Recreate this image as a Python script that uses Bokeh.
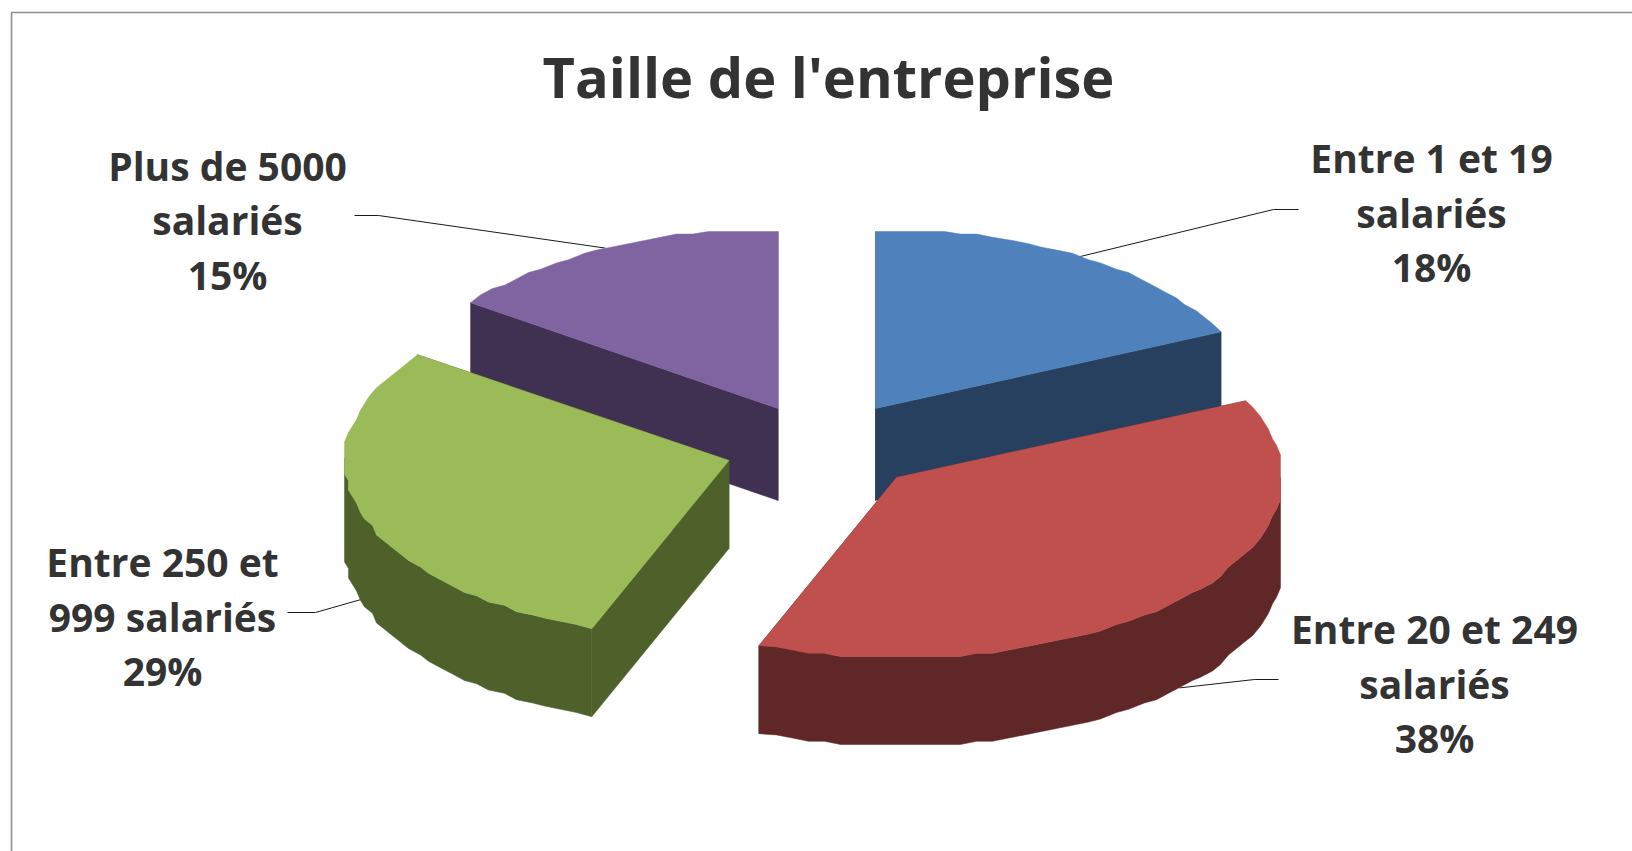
import numpy as np
from bokeh.embed import file_html
from bokeh.resources import INLINE
from bokeh.plotting import figure
from bokeh.core.properties import value

TITLE = "Taille de l'entreprise"
categories = [["Entre 1 et 19", "salariés"], ["Entre 20 et 249", "salariés"],
              ["Entre 250 et", "999 salariés"], ["Plus de 5000", "salariés"]]
shares = [18.0, 37.8, 29.2, 15.0]
percent_labels = ["18%", "38%", "29%", "15%"]
top_colors = ["#4F81BD", "#C0504D", "#9BBB59", "#8064A2"]
wall_colors = ["#284060", "#5F2727", "#4F612B", "#403152"]

# layout (page pixels)
apex_x = [875, 896, 728.5, 777.5]
apex_y = [408, 477, 460, 408]
radius_x = [382, 386, 385, 380]
depth = [92, 88, 88, 92]
RY, TOP_CLIP = 180, 231
label_x = [1431, 1434, 162, 227]
label_y = [157, 628, 561, 164.5]
LINE_H = 54.5
elbow_x = [1273, 1254, 315, 378]
elbow_y = [209, 679, 612, 215]
end_x = [1298, 1278, 287, 354]

p = figure(width=1632, height=851, x_range=(0, 1632), y_range=(851, 0),
           toolbar_location=None, output_backend="svg", min_border=0,
           outline_line_color=None, background_fill_color="white")
p.axis.visible = False
p.grid.visible = False


def snap(v, step):
    return np.round(np.asarray(v) / step) * step


def rim(i, a0, a1):
    n = max(2, int(abs(a1 - a0) / 2.5) + 1)
    deg = np.linspace(a0, a1, n)
    a = np.radians(deg)
    x = apex_x[i] + radius_x[i] * np.sin(a)
    y = apex_y[i] - RY * np.cos(a)
    # the source drawing has a faceted, stair-stepped outline
    x[1:-1] = snap(x[1:-1], 4.0)
    y[1:-1] = snap(y[1:-1], 3.2)
    return deg, x, np.maximum(y, TOP_CLIP)


edges = np.cumsum([0] + shares) / sum(shares) * 360
order = [3, 0, 2, 1]

# leader lines
for i in range(4):
    mid = np.radians((edges[i] + edges[i + 1]) / 2)
    ax = apex_x[i] + radius_x[i] * np.sin(mid)
    ay = apex_y[i] - RY * np.cos(mid) + (depth[i] if np.cos(mid) < 0 else 0)
    p.line([ax, elbow_x[i], end_x[i]], [ay, elbow_y[i], elbow_y[i]],
           line_color="#1a1a1a", line_width=1)

for i in order:
    a0, a1 = edges[i], edges[i + 1]
    cx, cy, d = apex_x[i], apex_y[i], depth[i]
    deg, x, y = rim(i, a0, a1)
    # radial walls
    for ex, ey in ((x[0], y[0]), (x[-1], y[-1])):
        p.patch([cx, ex, ex, cx], [cy, ey, ey + d, cy + d],
                fill_color=wall_colors[i], line_color=wall_colors[i], line_width=0.5)
    # outer wall (front half only), sharing the top face's outline
    front = (deg >= 88) & (deg <= 272)
    if front.sum() > 1:
        fx, fy = x[front], y[front]
        p.patch(np.r_[fx, fx[::-1]], np.r_[fy, (fy + d)[::-1]],
                fill_color=wall_colors[i], line_color=wall_colors[i], line_width=0.5)
    # top face
    p.patch(np.r_[cx, x], np.r_[cy, y], fill_color=top_colors[i],
            line_color=top_colors[i], line_width=0.5)

# frame: top and left edges only
p.line([11, 11, 1632], [851, 12, 12], line_color="#8f8f8f", line_width=1.6)

FONT = value("Open Sans")
p.text([828], [75], text=[TITLE], text_font=FONT, text_font_style="bold",
       text_font_size="56px", text_color="#333333", text_align="center",
       text_baseline="middle")
for i in range(4):
    lines = categories[i] + [percent_labels[i]]
    p.text([label_x[i]] * 3, [label_y[i] + k * LINE_H for k in range(3)], text=lines,
           text_font=FONT, text_font_style="bold", text_font_size="39px",
           text_color="#333333", text_align="center", text_baseline="middle")

open("out.html", "w").write(file_html(p, INLINE))
